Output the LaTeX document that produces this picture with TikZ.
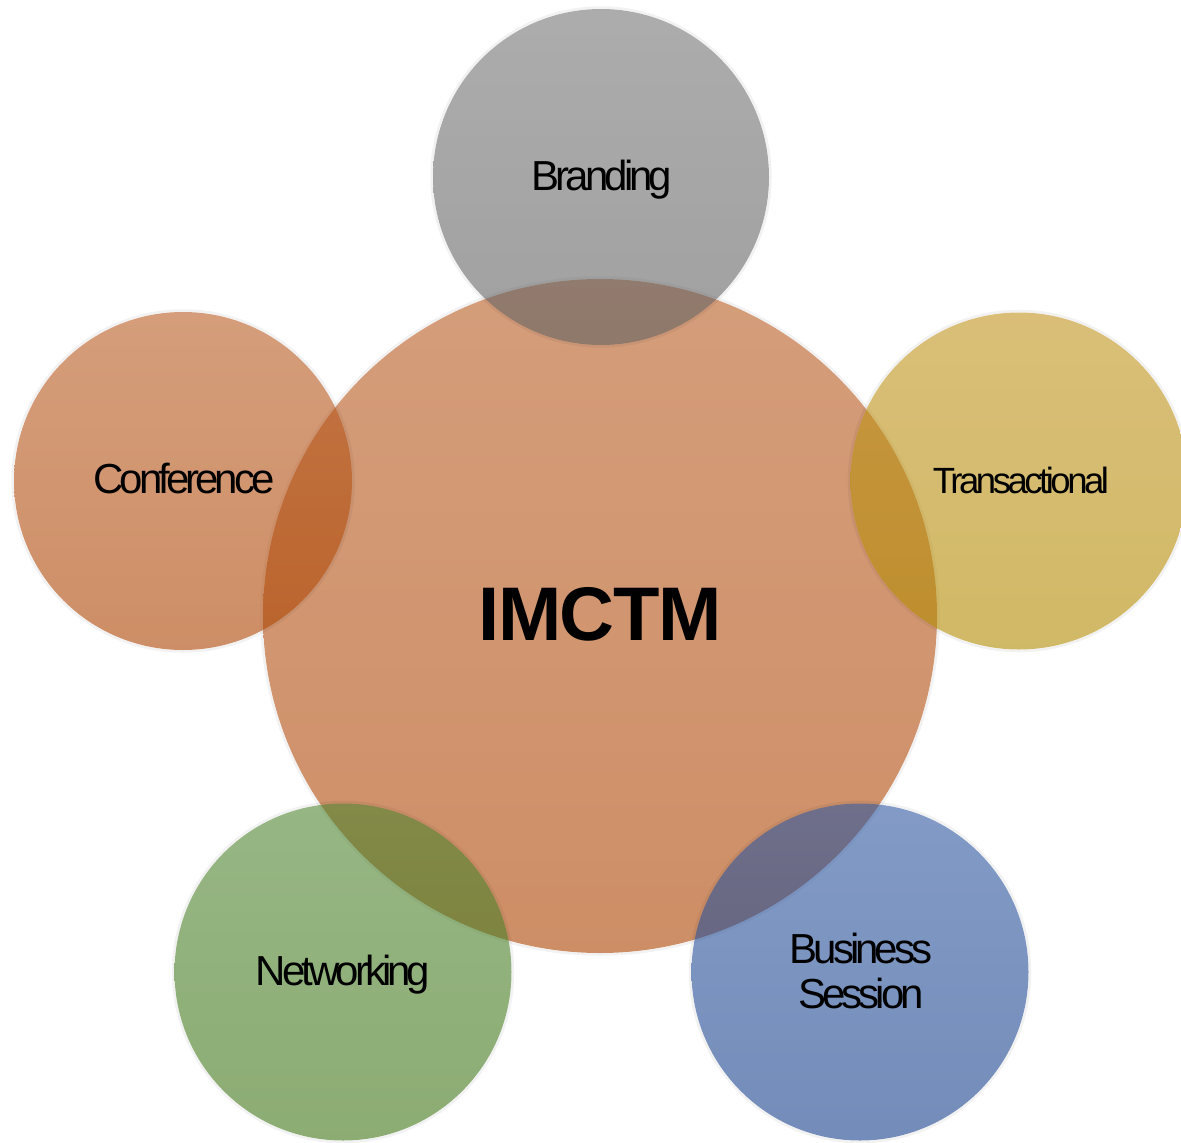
\documentclass[tikz,border=0pt]{standalone}
\usepackage{fontspec}
\setmainfont{Liberation Sans}
\newfontfamily\lblfont[LetterSpace=-9.5]{Liberation Sans}
\newfontfamily\hdfont[LetterSpace=-2]{Liberation Sans}
\definecolor{orTop}{RGB}{185,92,35}
\definecolor{orBot}{RGB}{172,67,0}
\definecolor{grTop}{RGB}{117,117,117}
\definecolor{grBot}{RGB}{97,97,97}
\definecolor{goTop}{RGB}{193,147,30}
\definecolor{goBot}{RGB}{177,138,0}
\definecolor{gnTop}{RGB}{80,133,50}
\definecolor{gnBot}{RGB}{63,117,22}
\definecolor{blTop}{RGB}{47,88,160}
\definecolor{blBot}{RGB}{22,63,138}
\tikzset{
  bubble/.style n args={3}{circle, inner sep=0pt, minimum size=#1,
    top color=#2, bottom color=#3, fill opacity=0.6, draw=none},
  rim/.style={draw=black, draw opacity=0.05, line width=2.5pt},
  lbl/.style={font=\lblfont\fontsize{42}{45}\selectfont, text=black, inner sep=0pt, anchor=base},
}
\begin{document}
\begin{tikzpicture}[x=1pt,y=-1pt]
\useasboundingbox (0,0) rectangle (1181,1143);
% centre circle
\node[bubble={674pt}{orTop}{orBot}] (hub) at (600,616) {};
\draw[rim] (hub.center) circle[radius=338.5];
% satellites
\node[bubble={336pt}{grTop}{grBot}] (brand) at (601,177) {};
\draw[rim] (brand.center) circle[radius=169.5];
\node[bubble={338pt}{orTop}{orBot}] (conf) at (183,481) {};
\draw[rim] (conf.center) circle[radius=170.5];
\node[bubble={337pt}{goTop}{goBot}] (trans) at (1019,481) {};
\draw[rim] (trans.center) circle[radius=170];
\node[bubble={337pt}{gnTop}{gnBot}] (netw) at (343,972) {};
\draw[rim] (netw.center) circle[radius=170];
\node[bubble={337pt}{blTop}{blBot}] (busi) at (860,972) {};
\draw[rim] (busi.center) circle[radius=170];
% labels
\node[font=\hdfont\bfseries\fontsize{76}{80}\selectfont, inner sep=0pt, anchor=base] (hubtxt) at (600,640) {IMCTM};
\node[lbl] (brandtxt) at (602,190) {Branding};
\node[lbl] (conftxt) at (184,493) {Conference};
\node[lbl, font=\lblfont\fontsize{36.5}{40}\selectfont] (transtxt) at (1021,493) {Transactional};
\node[lbl] (netwtxt) at (343,985) {Networking};
\node[font=\lblfont\fontsize{42}{45}\selectfont, align=center, inner sep=0pt, anchor=center] (busitxt) at (861,970.5) {Business\\Session};
\end{tikzpicture}
\end{document}
